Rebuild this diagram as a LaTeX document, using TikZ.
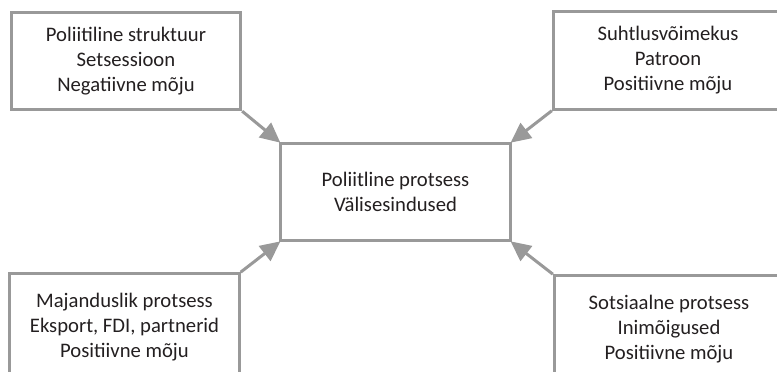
\documentclass[tikz,border=0pt]{standalone}
\usepackage{fontspec}
\setmainfont{Carlito}
\usetikzlibrary{arrows.meta}
\definecolor{boxgray}{HTML}{999999}
\definecolor{textblack}{HTML}{231F20}
\tikzset{
	factor/.style={draw=boxgray, line width=2.25pt, align=center, text=textblack,
		minimum width=172pt, minimum height=73pt, inner sep=0pt,
		font=\fontsize{15.5}{18.75}\selectfont},
	cutfactor/.style={factor, minimum height=80pt},
	influence/.style={draw=boxgray, line width=2.25pt,
		-{Triangle[length=15pt, width=14pt]}, shorten >=-1pt}
}
\begin{document}
\begin{tikzpicture}[x=0.75pt, y=-0.75pt]
	\useasboundingbox[clip] (0, 0) rectangle (777, 371);

	\node[factor] (process) at (395.5, 192) {Poliitline protsess\\Välisesindused};

	\node[factor] (structure) at (126, 61) {Poliitiline struktuur\\Setsessioon\\Negatiivne mõju};
	\node[factor] (capacity) at (668, 60.5) {Suhtlusvõimekus\\Patroon\\Positiivne mõju};
	\node[cutfactor] (economy) at (124.5, 327) {Majanduslik protsess\\Eksport, FDI, partnerid\\Positiivne mõju};
	\node[cutfactor] (social) at (669, 329) {Sotsiaalne protsess\\Inimõigused\\Positiivne mõju};

	\draw[influence] (structure.south east) -- (process.north west);
	\draw[influence] (capacity.south west) -- (process.north east);
	\draw[influence] (economy.north east) -- (process.south west);
	\draw[influence] (social.north west) -- (process.south east);
\end{tikzpicture}
\end{document}
